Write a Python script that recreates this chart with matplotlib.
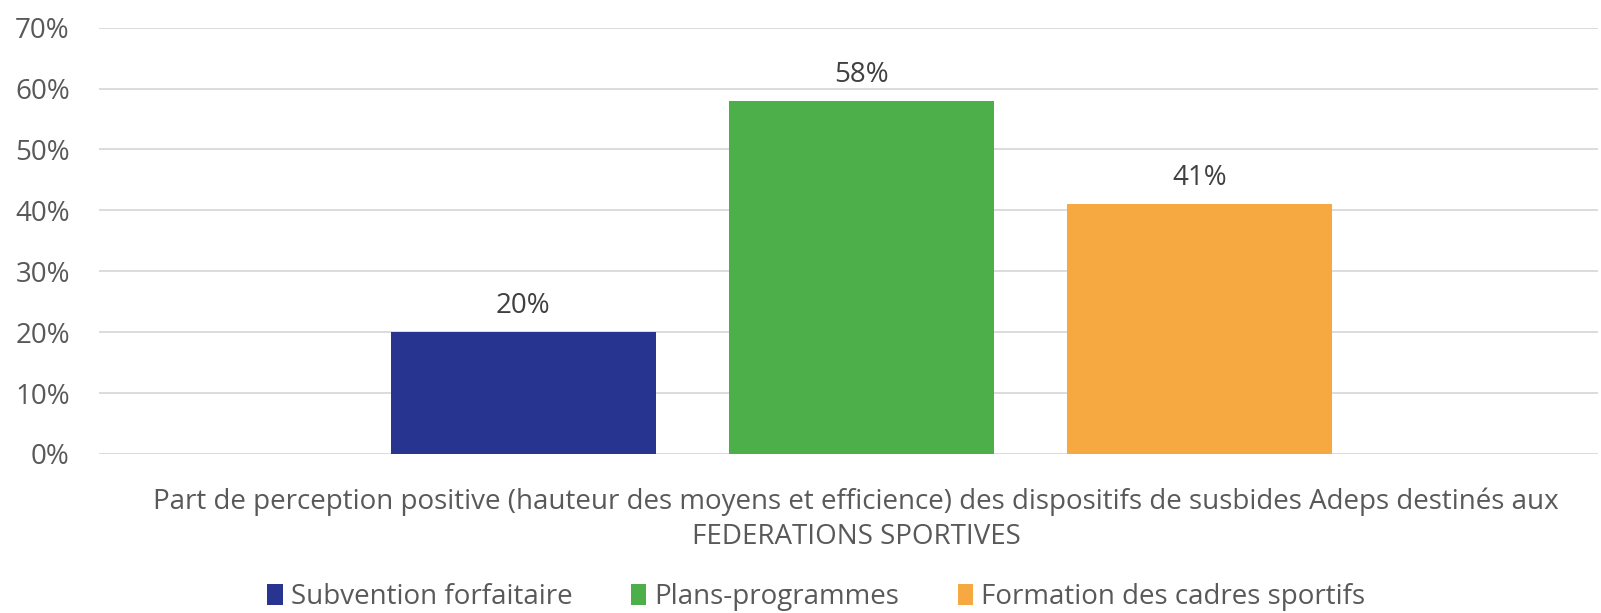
import matplotlib
matplotlib.use("Agg")
import matplotlib.pyplot as plt
from matplotlib.patches import Patch

series = ["Subvention forfaitaire", "Plans-programmes", "Formation des cadres sportifs"]
values = [20, 58, 41]
colors = ["#283590", "#4DAF4A", "#F5A940"]
category = "Part de perception positive (hauteur des moyens et efficience) des dispositifs de susbides Adeps destinés aux\nFEDERATIONS SPORTIVES"
yticks = [0, 10, 20, 30, 40, 50, 60, 70]

plt.rcParams['font.family'] = ['Open Sans', 'DejaVu Sans']
txt = "#595959"
fs = 20

fig = plt.figure(figsize=(16.01, 6.13), dpi=100)
ax = fig.add_axes([99/1601, 1 - 454/613, 1499/1601, (454 - 27.6)/613])

width = 0.177
center = 0.0085
spacing = 0.2255
for i, (s, v, c) in enumerate(zip(series, values, colors)):
    x = center + (i - 1) * spacing
    ax.bar(x, v, width=width, color=c, zorder=3)
    ax.text(x, v + 2.0, f"{v}%", ha="center", va="bottom", fontsize=fs, color="#404040")

ax.set_xlim(-0.5, 0.5)
ax.set_ylim(0, 70)
ax.set_yticks(yticks)
ax.set_yticklabels([f"{t}%" for t in yticks], fontsize=fs, color=txt)
ax.tick_params(axis="y", length=0, pad=21)
ax.set_xticks([0.005])
ax.set_xticklabels([category], fontsize=fs, color=txt, linespacing=1.33)
ax.tick_params(axis="x", length=0, pad=24)
ax.grid(axis="y", color="#D9D9D9", linewidth=1.3, zorder=0)
for sp in ax.spines.values():
    sp.set_visible(False)

handles = [Patch(facecolor=c, label=s) for s, c in zip(series, colors)]
leg = fig.legend(handles=handles, loc="center", bbox_to_anchor=(0.51, 1 - 597/613), ncol=3,
                 frameon=False, fontsize=fs, handlelength=0.55, handleheight=0.8,
                 handletextpad=0.3, columnspacing=2.1)
for t in leg.get_texts():
    t.set_color(txt)

fig.savefig("out.png", dpi=100, facecolor="white")
